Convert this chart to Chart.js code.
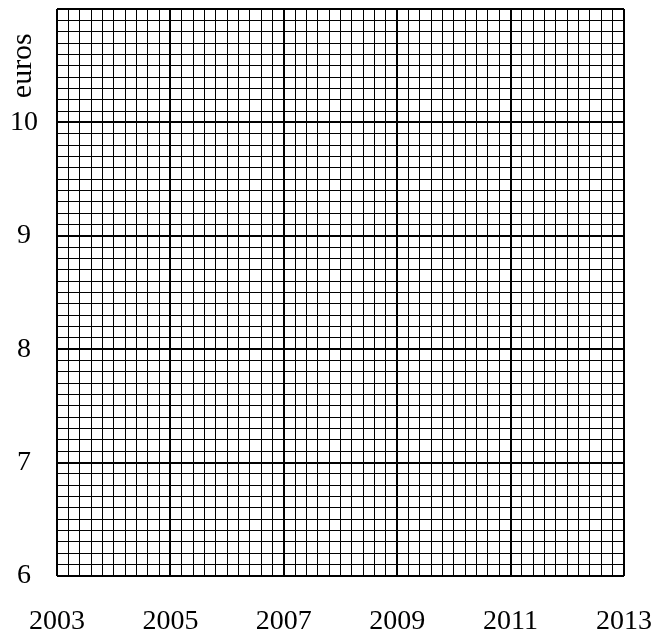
<!DOCTYPE html>
<html>
<head>
<meta charset="utf-8">
<script src="https://cdn.jsdelivr.net/npm/chart.js@4/dist/chart.umd.min.js"></script>
<style>
  body { margin: 0; background: #fff; }
  #wrap { width: 653px; height: 635px; }
</style>
</head>
<body>
<div id="wrap"><canvas id="chart" width="653" height="635"></canvas></div>
<script>
// axes of the empty graph paper
const yearMin = 2003;
const yearMax = 2013;
const yearStep = 0.2;            // one small square along x
const yearLabels = [2003, 2005, 2007, 2009, 2011, 2013];

const euroMin = 6;
const euroMax = 11;
const euroStep = 0.1;            // one small square along y
const euroLabels = [6, 7, 8, 9, 10];
const unitTitle = "euros";

const serif = "'Liberation Serif', 'DejaVu Serif', serif";

const near = (a, b) => Math.abs(a - b) < 1e-6;
const isYearMajor = (v) => yearLabels.some((y) => near(v, y));
const isEuroMajor = (v) => near(v, Math.round(v));

// "euros" written upright along the left side
const unitLabel = {
  id: "unitLabel",
  afterDraw(chart) {
    const ctx = chart.ctx;
    const y = chart.scales.y.getPixelForValue(10.5);
    ctx.save();
    ctx.translate(23, y);
    ctx.rotate(-Math.PI / 2);
    ctx.font = "30px " + serif;
    ctx.fillStyle = "#000";
    ctx.textAlign = "center";
    ctx.textBaseline = "middle";
    ctx.fillText(unitTitle, 0, 0);
    ctx.restore();
  },
};

new Chart(document.getElementById("chart"), {
  type: "scatter",
  data: { datasets: [{ data: [] }] },
  plugins: [unitLabel],
  options: {
    responsive: false,
    animation: false,
    layout: { padding: { top: 9, right: 29, bottom: 0, left: 0 } },
    plugins: { legend: { display: false }, tooltip: { enabled: false } },
    scales: {
      x: {
        type: "linear",
        min: yearMin,
        max: yearMax,
        border: { display: false },
        afterFit: (s) => { s.height = 59; s.paddingLeft = 0; s.paddingRight = 0; },
        grid: {
          drawTicks: false,
          color: "#000",
          lineWidth: (c) => (isYearMajor(c.tick.value) ? 2 : 1),
        },
        ticks: {
          stepSize: yearStep,
          autoSkip: false,
          maxRotation: 0,
          padding: 29,
          color: "#000",
          font: { family: serif, size: 28 },
          callback: (v) => {
            const y = yearLabels.find((l) => near(v, l));
            return y === undefined ? "" : String(y);
          },
        },
      },
      y: {
        type: "linear",
        min: euroMin,
        max: euroMax,
        border: { display: false },
        afterFit: (s) => { s.width = 57; s.paddingTop = 0; s.paddingBottom = 0; },
        grid: {
          drawTicks: false,
          color: "#000",
          lineWidth: (c) => (isEuroMajor(c.tick.value) ? 2 : 1),
        },
        ticks: {
          stepSize: euroStep,
          autoSkip: false,
          crossAlign: "center",
          padding: 19,
          color: "#000",
          font: { family: serif, size: 28 },
          callback: (v) => {
            const e = euroLabels.find((l) => near(v, l));
            return e === undefined ? "" : String(e);
          },
        },
      },
    },
  },
});
</script>
</body>
</html>
